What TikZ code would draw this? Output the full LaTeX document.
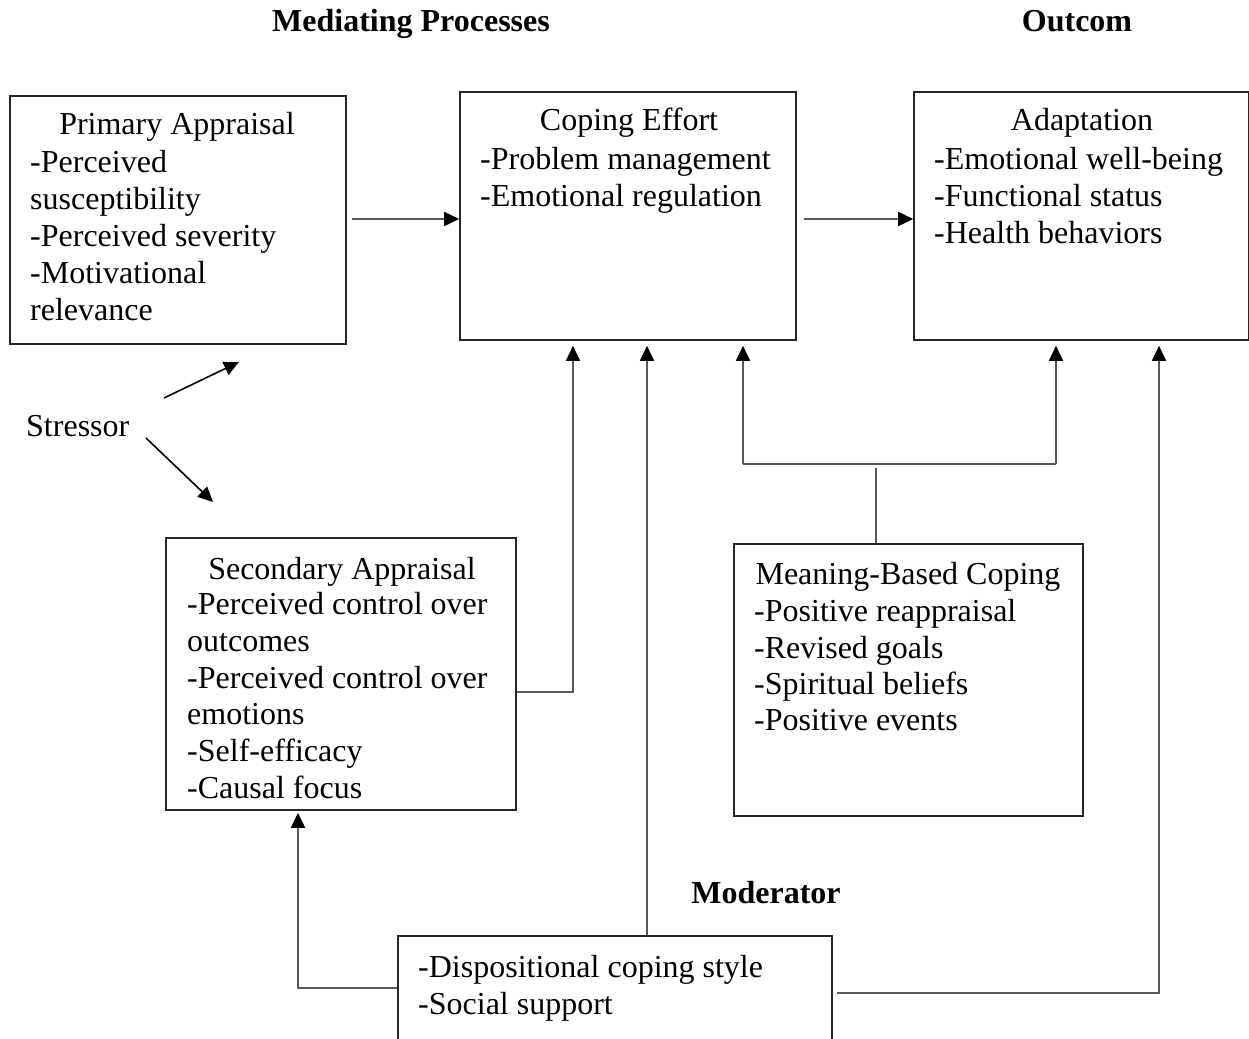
\documentclass[tikz,border=0pt]{standalone}
\usepackage{fontspec}
\setmainfont{Liberation Serif}
\usetikzlibrary{arrows.meta}
\begin{document}
\begin{tikzpicture}[x=1pt,y=-1pt,
  box/.style={draw=black!85,line width=1.6pt,inner sep=0pt,rectangle},
  txt/.style={inner sep=0pt,anchor=base west,font=\fontsize{32}{37}\selectfont},
  ttl/.style={inner sep=0pt,anchor=base,font=\fontsize{32}{37}\selectfont},
  head/.style={inner sep=0pt,anchor=base,font=\fontsize{32}{37}\selectfont\bfseries},
  conn/.style={draw=black!65,line width=1.6pt},
  arr/.style={conn,-{Triangle[length=15pt,width=14pt,color=black]}}
]
\useasboundingbox (0,0) rectangle (1249,1038);
\clip (0,0) rectangle (1249,1038);

% headings
\node[head] (hmed) at (411,32) {Mediating Processes};
\node[head] (hout) at (1077,32) {Outcom};
\node[head] (hmod) at (766,903) {Moderator};

% boxes
\node[box,minimum width=336pt,minimum height=248pt] (primary) at (178,220) {};
\node[box,minimum width=336pt,minimum height=248pt] (coping) at (628,216) {};
\node[box,minimum width=335pt,minimum height=248pt] (adapt) at (1081.5,216) {};
\node[box,minimum width=350pt,minimum height=272pt] (secondary) at (341,674) {};
\node[box,minimum width=349pt,minimum height=272pt] (meaning) at (908.5,680) {};
\node[box,minimum width=434pt,minimum height=164pt] (moderator) at (615,1018) {};

% primary appraisal text
\node[ttl] (pa0) at (177,135) {Primary Appraisal};
\node[txt] (pa1) at (30,172) {-Perceived};
\node[txt] (pa2) at (30,209) {susceptibility};
\node[txt] (pa3) at (30,246) {-Perceived severity};
\node[txt] (pa4) at (30,283) {-Motivational};
\node[txt] (pa5) at (30,320) {relevance};

% coping effort text
\node[ttl] (ce0) at (629,131) {Coping Effort};
\node[txt] (ce1) at (480,169) {-Problem management};
\node[txt] (ce2) at (480,206) {-Emotional regulation};

% adaptation text
\node[ttl] (ad0) at (1082,131) {Adaptation};
\node[txt] (ad1) at (934,169) {-Emotional well-being};
\node[txt] (ad2) at (934,206) {-Functional status};
\node[txt] (ad3) at (934,243) {-Health behaviors};

% secondary appraisal text
\node[ttl] (sa0) at (342,579) {Secondary Appraisal};
\node[txt] (sa1) at (187,614) {-Perceived control over};
\node[txt] (sa2) at (187,651) {outcomes};
\node[txt] (sa3) at (187,688) {-Perceived control over};
\node[txt] (sa4) at (187,724) {emotions};
\node[txt] (sa5) at (187,761) {-Self-efficacy};
\node[txt] (sa6) at (187,798) {-Causal focus};

% meaning-based coping text
\node[ttl] (mb0) at (908,584) {Meaning-Based Coping};
\node[txt] (mb1) at (754,621) {-Positive reappraisal};
\node[txt] (mb2) at (754,658) {-Revised goals};
\node[txt] (mb3) at (754,694) {-Spiritual beliefs};
\node[txt] (mb4) at (754,730) {-Positive events};

% moderator text
\node[txt] (md1) at (418,977) {-Dispositional coping style};
\node[txt] (md2) at (418,1014) {-Social support};

% stressor
\node[txt] (stressor) at (26,436) {Stressor};

% coordinates
\coordinate (pc) at (352,219);
\coordinate (ca) at (804,219);
\coordinate (st1a) at (164,398);
\coordinate (st1b) at (239,362);
\coordinate (st2a) at (146,438);
\coordinate (st2b) at (213,502);
\coordinate (s1) at (573,692);
\coordinate (m1) at (647,700);
\coordinate (j) at (876,468);
\coordinate (jl) at (743,464);
\coordinate (jr) at (1056,464);
\coordinate (ml) at (298,988);
\coordinate (mr) at (1159,993);

% connectors
\draw[arr] (pc) -- (pc -| coping.west);
\draw[arr] (ca) -- (ca -| adapt.west);
\draw[arr,draw=black] (st1a) -- (st1b);
\draw[arr,draw=black] (st2a) -- (st2b);
\draw[arr,shorten >=5pt] (secondary.east |- s1) -- (s1) -- (s1 |- coping.south);
\draw[arr,shorten >=5pt] (moderator.north -| m1) -- (m1 |- coping.south);
\draw[conn] (meaning.north -| j) -- (j);
\draw[conn] (jl) -- (jr);
\draw[arr,shorten >=5pt] (jl) -- (jl |- coping.south);
\draw[arr,shorten >=5pt] (jr) -- (jr |- adapt.south);
\draw[arr,shorten >=2pt] (moderator.west |- ml) -- (ml) -- (ml |- secondary.south);
\draw[arr,shorten >=5pt,shorten <=4pt] (moderator.east |- mr) -- (mr) -- (mr |- adapt.south);
\end{tikzpicture}
\end{document}
